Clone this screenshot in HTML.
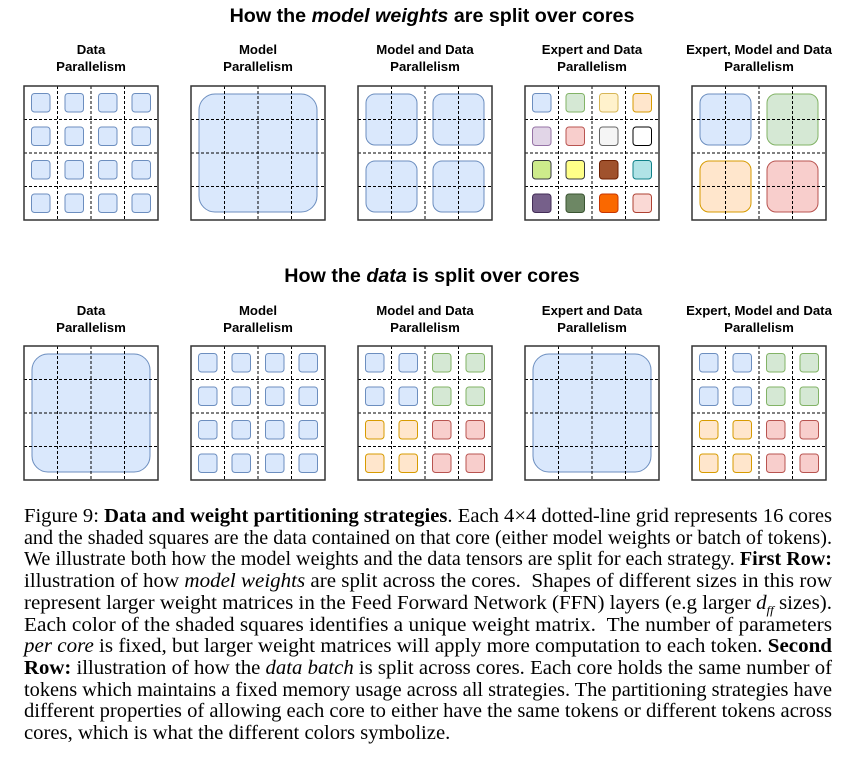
<!DOCTYPE html>
<html><head><meta charset="utf-8">
<style>
body{margin:0;background:#fff;width:854px;height:766px;overflow:hidden;position:relative;font-family:"Liberation Sans",sans-serif}
.h{position:absolute;left:0;width:864px;text-align:center;font-weight:bold;font-size:19.7px;color:#000}
.sub{position:absolute;width:180px;text-align:center;font-weight:bold;font-size:13.2px;line-height:16.5px;color:#000}
.cap{position:absolute;left:24px;font-family:"Liberation Serif",serif;font-size:19.5px;line-height:22px;white-space:nowrap;transform-origin:0 0;color:#000}
svg{position:absolute;left:0;top:0}
</style></head><body>
<div class="h" style="top:5px">How the <i>model weights</i> are split over cores</div>
<div class="h" style="top:265px">How the <i>data</i> is split over cores</div>
<svg id="fig" width="854" height="500"></svg>
<script>
const strategies=["Data\nParallelism","Model\nParallelism","Model and Data\nParallelism","Expert and Data\nParallelism","Expert, Model and Data\nParallelism"];
const palette={b:["#dae8fc","#6c8ebf"],g:["#d5e8d4","#82b366"],o:["#ffe6cc","#d79b00"],r:["#f8cecc","#b85450"],y:["#fff2cc","#d6b656"],p:["#e1d5e7","#9673a6"],s:["#f5f5f5","#666666"],w:["#ffffff","#000000"],l:["#cdeb8b","#36393d"],Y:["#ffff88","#36393d"],n:["#a0522d","#6d1f00"],t:["#b0e3e6","#0e8088"],P:["#76608a","#432d57"],G:["#6d8764","#3a5431"],O:["#fa6800","#c73500"],R:["#fad9d5","#ae4132"]};
const topRow=[{size:1,colors:"bbbbbbbbbbbbbbbb"},{size:4,colors:"b"},{size:2,colors:"bbbb"},{size:1,colors:"bgyoprswlYntPGOR"},{size:2,colors:"bgor"}];
const bottomRow=[{size:4,colors:"b"},{size:1,colors:"bbbbbbbbbbbbbbbb"},{size:1,colors:"bbggbbggoorroorr"},{size:4,colors:"b"},{size:1,colors:"bbggbbggoorroorr"}];
const rowTops=[86,346];const subTops=[42,303];
const svg=document.getElementById('fig');const NS="http://www.w3.org/2000/svg";
function el(t,a){const e=document.createElementNS(NS,t);for(const k in a)e.setAttribute(k,a[k]);svg.appendChild(e);return e;}
[topRow,bottomRow].forEach((row,ri)=>{
 row.forEach((pan,pi)=>{
  const x0=24+pi*167,y0=rowTops[ri],S=134,c=S/4;
  const sub=document.createElement('div');sub.className='sub';
  
  
  sub.style.left=(x0+67-90)+'px';sub.style.top=subTops[ri]+'px';
  sub.innerHTML=strategies[pi].replace('\n','<br>');document.body.appendChild(sub);
  const n=4/pan.size;
  for(let i=0;i<n*n;i++){
   const bx=x0+(i%n)*c*pan.size,by=y0+Math.floor(i/n)*c*pan.size,bs=c*pan.size;
   const inset=pan.size==1?7.5:8,rr=pan.size==1?3:pan.size==2?9:16;
   const col=palette[pan.colors[i]];
   const r=el('rect',{x:bx+inset,y:by+inset,width:bs-2*inset,height:bs-2*inset,rx:rr,fill:col[0],stroke:col[1],'stroke-width':1});
   
   
  }
  for(let k=1;k<4;k++){
   el('line',{x1:x0+k*c,y1:y0,x2:x0+k*c,y2:y0+S,stroke:'#000','stroke-width':1,'stroke-dasharray':'3,2'});
   el('line',{x1:x0,y1:y0+k*c,x2:x0+S,y2:y0+k*c,stroke:'#000','stroke-width':1,'stroke-dasharray':'3,2'});
  }
  const b=el('rect',{x:x0,y:y0,width:S,height:S,fill:'none',stroke:'#333','stroke-width':1.5});
  
  
 });
});
const lines=[
"Figure 9: <b>Data and weight partitioning strategies</b>. Each 4×4 dotted-line grid represents 16 cores",
"and the shaded squares are the data contained on that core (either model weights or batch of tokens).",
"We illustrate both how the model weights and the data tensors are split for each strategy. <b>First Row:</b>",
"illustration of how <i>model weights</i> are split across the cores. &nbsp;Shapes of different sizes in this row",
"represent larger weight matrices in the Feed Forward Network (FFN) layers (e.g larger <i>d<sub style='font-size:12px'>ff</sub></i> sizes).",
"Each color of the shaded squares identifies a unique weight matrix. &nbsp;The number of parameters",
"<i>per core</i> is fixed, but larger weight matrices will apply more computation to each token. <b>Second</b>",
"<b>Row:</b> illustration of how the <i>data batch</i> is split across cores. Each core holds the same number of",
"tokens which maintains a fixed memory usage across all strategies. The partitioning strategies have",
"different properties of allowing each core to either have the same tokens or different tokens across",
"cores, which is what the different colors symbolize."];
let sum=0,cnt=0;
lines.forEach((t,i)=>{const d=document.createElement('div');d.className='cap';d.innerHTML=t;
 
 
 d.style.top=(506+i*21.7)+'px';document.body.appendChild(d);
 const w=d.getBoundingClientRect().width;
 let s;
 if(i<lines.length-1){s=808/w;sum+=s;cnt++;}else{s=sum/cnt;}
 d.style.transform='scaleX('+s+')';
});
</script>
</body></html>
